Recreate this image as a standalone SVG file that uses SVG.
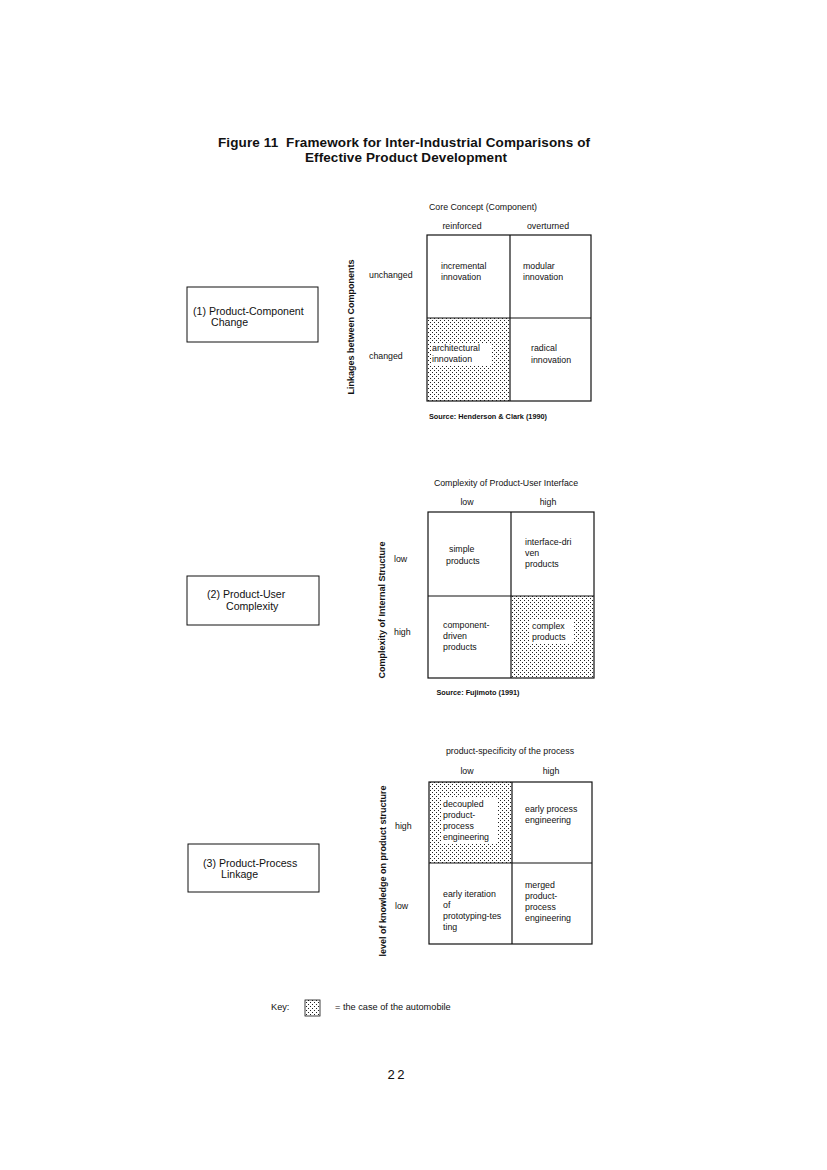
<svg xmlns="http://www.w3.org/2000/svg" width="827" height="1170" viewBox="0 0 827 1170">
<defs>
<pattern id="dots" width="4" height="4" patternUnits="userSpaceOnUse">
<rect x="0" y="0" width="1" height="1" fill="#222"/>
<rect x="2" y="2" width="1" height="1" fill="#222"/>
</pattern>
</defs>
<style>
text{font-family:"Liberation Sans",Arial,sans-serif;fill:#111}
.t{font-size:13.5px;font-weight:bold;white-space:pre}
.s{font-size:8.8px}
.c{font-size:8.8px}
.k{font-size:9.2px}
.b{font-size:10.6px}
.v{font-size:9px;font-weight:bold}
.src{font-size:7.3px;font-weight:bold}
.box{fill:none;stroke:#111;stroke-width:1}
.grid{fill:none;stroke:#111;stroke-width:1.2}
</style>
<rect width="827" height="1170" fill="#fff"/>

<g id="title">
<text class="t" x="404" y="147" text-anchor="middle" textLength="372" xml:space="preserve">Figure 11  Framework for Inter-Industrial Comparisons of</text>
<text class="t" x="406" y="162" text-anchor="middle" textLength="202">Effective Product Development</text>
</g>

<!-- Matrix 1 -->
<g id="matrix1">
<rect x="427" y="318" width="83" height="83" fill="url(#dots)"/>
<rect x="431" y="343" width="60" height="22" fill="#fff"/>
<rect class="grid" x="427" y="235" width="164" height="166"/>
<line class="grid" x1="510" y1="235" x2="510" y2="401"/>
<line class="grid" x1="427" y1="318" x2="591" y2="318"/>
<text class="s" x="483" y="210" text-anchor="middle">Core Concept (Component)</text>
<text class="s" x="462" y="229" text-anchor="middle">reinforced</text>
<text class="s" x="548" y="229" text-anchor="middle">overturned</text>
<text class="s" x="369" y="278">unchanged</text>
<text class="s" x="369" y="359">changed</text>
<text class="v" transform="translate(354,327) rotate(-90)" text-anchor="middle">Linkages between Components</text>
<text class="c" x="441" y="269">incremental</text>
<text class="c" x="441" y="280">innovation</text>
<text class="c" x="523" y="269">modular</text>
<text class="c" x="523" y="280">innovation</text>
<text class="c" x="432" y="351">architectural</text>
<text class="c" x="432" y="362">innovation</text>
<text class="c" x="531" y="351">radical</text>
<text class="c" x="531" y="363">innovation</text>
<text class="src" x="488" y="419" text-anchor="middle">Source: Henderson &amp; Clark (1990)</text>
</g>

<g id="box1">
<rect class="box" x="187" y="287" width="131" height="55"/>
<text class="b" x="193" y="315">(1) Product-Component</text>
<text class="b" x="211" y="326">Change</text>
</g>

<!-- Matrix 2 -->
<g id="matrix2">
<rect x="511" y="596" width="83" height="82" fill="url(#dots)"/>
<rect x="529" y="620" width="45" height="23" fill="#fff"/>
<rect class="grid" x="428" y="512" width="166" height="166"/>
<line class="grid" x1="511" y1="512" x2="511" y2="678"/>
<line class="grid" x1="428" y1="596" x2="594" y2="596"/>
<text class="s" x="506" y="486" text-anchor="middle">Complexity of Product-User Interface</text>
<text class="s" x="467" y="505" text-anchor="middle">low</text>
<text class="s" x="548" y="505" text-anchor="middle">high</text>
<text class="s" x="394" y="562">low</text>
<text class="s" x="394" y="635">high</text>
<text class="v" transform="translate(385,610) rotate(-90)" text-anchor="middle">Complexity of Internal Structure</text>
<text class="c" x="449" y="552">simple</text>
<text class="c" x="446" y="564">products</text>
<text class="c" x="525" y="545">interface-dri</text>
<text class="c" x="525" y="556">ven</text>
<text class="c" x="525" y="567">products</text>
<text class="c" x="443" y="628">component-</text>
<text class="c" x="443" y="639">driven</text>
<text class="c" x="443" y="650">products</text>
<text class="c" x="532" y="629">complex</text>
<text class="c" x="532" y="640">products</text>
<text class="src" x="478" y="695" text-anchor="middle">Source: Fujimoto (1991)</text>
</g>

<g id="box2">
<rect class="box" x="187" y="576" width="132" height="49"/>
<text class="b" x="207" y="598">(2) Product-User</text>
<text class="b" x="226" y="610">Complexity</text>
</g>

<!-- Matrix 3 -->
<g id="matrix3">
<rect x="429" y="782" width="83" height="81" fill="url(#dots)"/>
<rect x="441" y="798" width="57" height="45" fill="#fff"/>
<rect class="grid" x="429" y="782" width="163" height="162"/>
<line class="grid" x1="512" y1="782" x2="512" y2="944"/>
<line class="grid" x1="429" y1="863" x2="592" y2="863"/>
<text class="s" x="510" y="754" text-anchor="middle">product-specificity of the process</text>
<text class="s" x="467" y="774" text-anchor="middle">low</text>
<text class="s" x="551" y="774" text-anchor="middle">high</text>
<text class="s" x="395" y="829">high</text>
<text class="s" x="395" y="909">low</text>
<text class="v" transform="translate(386,871) rotate(-90)" text-anchor="middle">level of knowledge on product structure</text>
<text class="c" x="443" y="807">decoupled</text>
<text class="c" x="443" y="818">product-</text>
<text class="c" x="443" y="829">process</text>
<text class="c" x="443" y="840">engineering</text>
<text class="c" x="525" y="812">early process</text>
<text class="c" x="525" y="823">engineering</text>
<text class="c" x="443" y="897">early iteration</text>
<text class="c" x="443" y="908">of</text>
<text class="c" x="443" y="919">prototyping-tes</text>
<text class="c" x="443" y="930">ting</text>
<text class="c" x="525" y="888">merged</text>
<text class="c" x="525" y="899">product-</text>
<text class="c" x="525" y="910">process</text>
<text class="c" x="525" y="921">engineering</text>
</g>

<g id="box3">
<rect class="box" x="188" y="844" width="131" height="48"/>
<text class="b" x="203" y="867">(3) Product-Process</text>
<text class="b" x="221" y="878">Linkage</text>
</g>

<g id="key">
<text class="k" x="271" y="1010">Key:</text>
<rect x="305" y="1000" width="15" height="16" fill="url(#dots)" stroke="#111" stroke-width="0.8"/>
<text class="k" x="335" y="1010">= the case of the automobile</text>
</g>

<g id="connectors"></g>

<text x="397" y="1079" text-anchor="middle" style="font-family:'Liberation Mono',monospace;font-size:13px" letter-spacing="2">22</text>
</svg>
